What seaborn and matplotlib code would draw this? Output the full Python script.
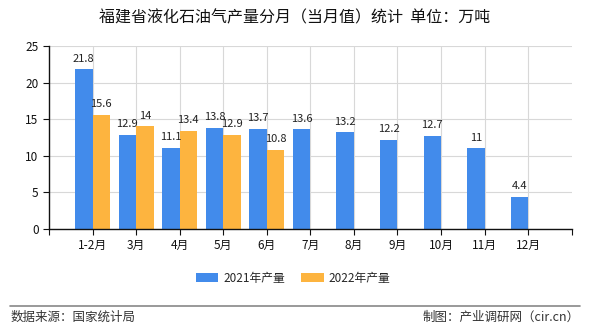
import matplotlib
matplotlib.use("Agg")
import matplotlib.pyplot as plt
import seaborn as sns
import pandas as pd
import numpy as np

categories = ["1-2月", "3月", "4月", "5月", "6月", "7月", "8月", "9月", "10月", "11月", "12月"]
values_2021 = [21.8, 12.9, 11.1, 13.8, 13.7, 13.6, 13.2, 12.2, 12.7, 11, 4.4]
values_2022 = [15.6, 14, 13.4, 12.9, 10.8, None, None, None, None, None, None]
series_names = ["2021年产量", "2022年产量"]
colors = ["#428BEB", "#FDB43F"]

rows = []
for c, v1, v2 in zip(categories, values_2021, values_2022):
    rows.append({"月份": c, "系列": series_names[0], "产量": v1})
    rows.append({"月份": c, "系列": series_names[1], "产量": np.nan if v2 is None else v2})
df = pd.DataFrame(rows)

sns.set_theme(style="white")
plt.rcParams['font.family'] = ['Noto Sans CJK SC', 'DejaVu Sans']

fig = plt.figure(figsize=(5.9, 3.3), dpi=100)
ax = fig.add_axes([0.083, 0.306, 0.886, 0.555])

sns.barplot(data=df, x="月份", y="产量", hue="系列", order=categories,
            hue_order=series_names, palette=colors, width=0.8, saturation=1,
            linewidth=0, edgecolor="none", ax=ax, legend=True)

for cont, vals in zip(ax.containers, [values_2021, values_2022]):
    labels = ["" if v is None else f"{v:g}" for v in vals]
    ax.bar_label(cont, labels=labels[:len(cont)], padding=4, fontsize=8, color="#222222")

ax.set_xlim(-1, 11)
ax.set_ylim(0, 25)
ax.set_yticks([0, 5, 10, 15, 20, 25])
ax.set_xticks(range(-1, 12))
ax.set_xticklabels([""] + categories + [""])
ax.tick_params(axis="both", labelsize=8.5, colors="#111111", length=4, width=0.8, direction="out")
ax.tick_params(axis="x", bottom=True)
ax.tick_params(axis="y", left=True)
ax.grid(True, color="#d8d8d8", linewidth=0.8)
ax.set_axisbelow(True)
ax.set_xlabel("")
ax.set_ylabel("")
for s in ["top", "right"]:
    ax.spines[s].set_visible(False)
for s in ["left", "bottom"]:
    ax.spines[s].set_color("#111111")
    ax.spines[s].set_linewidth(1.0)

ax.xaxis.grid(False)
for i in range(len(categories)):
    ax.axvline(i, color="#d8d8d8", linewidth=0.8, zorder=0)

leg = ax.legend(loc="upper center", bbox_to_anchor=(0.467, -0.175), ncol=2, frameon=False,
                fontsize=8.5, handlelength=1.9, handleheight=0.75, columnspacing=1.4, handletextpad=0.4)

fig.text(0.5, 0.945, "福建省液化石油气产量分月（当月值）统计  单位：万吨", ha="center", va="center",
         fontsize=11.5, color="#111111")

fig.add_artist(plt.Line2D([0.017, 0.983], [0.073, 0.073], color="#888888", linewidth=1.2,
                          transform=fig.transFigure))
fig.text(0.017, 0.04, "数据来源：国家统计局", ha="left", va="center", fontsize=9, color="#333333")
fig.text(0.983, 0.04, "制图：产业调研网（cir.cn）", ha="right", va="center", fontsize=9, color="#333333")

fig.savefig("out.png", dpi=100, facecolor="white")
